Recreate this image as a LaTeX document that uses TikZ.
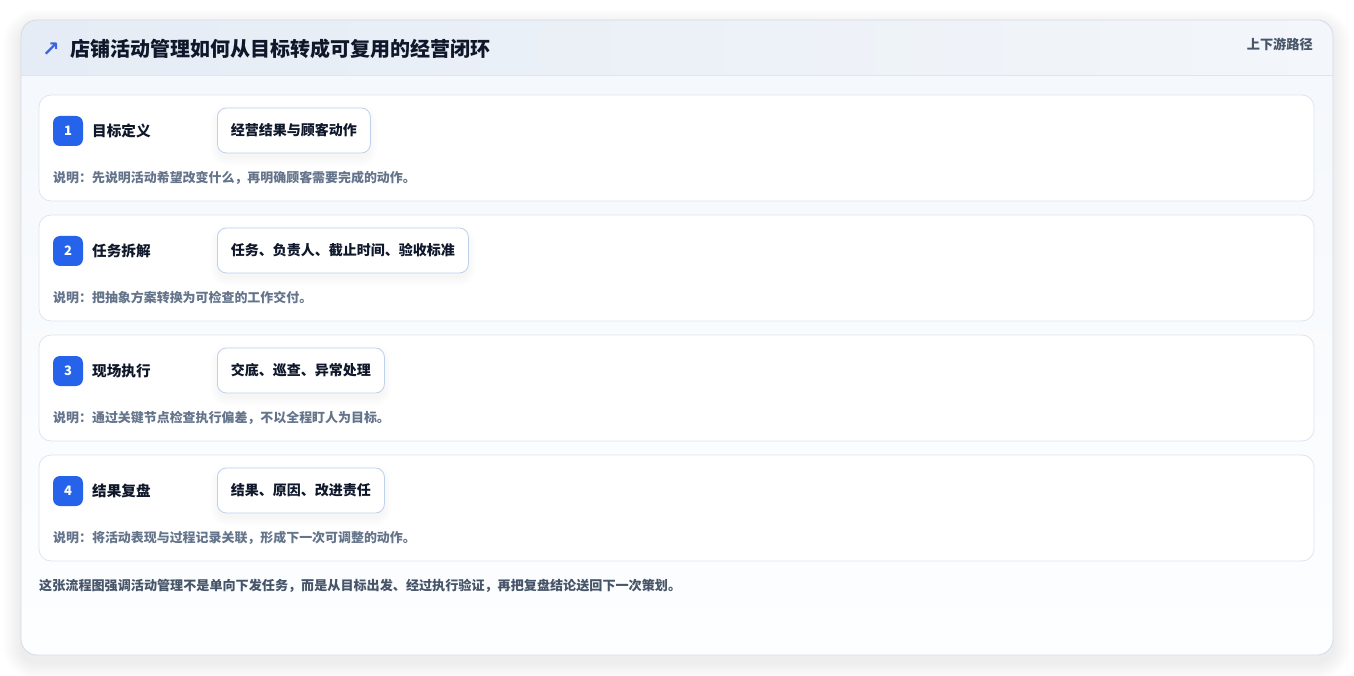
\documentclass[tikz,border=0pt]{standalone}
\usepackage{fontspec}
\setmainfont{Noto Sans CJK SC}
\newfontfamily\symfont{DejaVu Sans}
\usetikzlibrary{calc}
\pgfdeclarelayer{bgl}
\pgfdeclarelayer{rowl}
\pgfdeclarelayer{shadl}
\pgfsetlayers{bgl,rowl,shadl,main}
\definecolor{ink}{HTML}{0F172A}
\definecolor{muted}{HTML}{64748B}
\definecolor{subtle}{HTML}{475569}
\definecolor{badgeblue}{HTML}{2563EB}
\definecolor{arrowblue}{HTML}{3B63E0}
\definecolor{rowline}{HTML}{DCE5F1}
\definecolor{pillline}{HTML}{BDD0EC}
\definecolor{cardline}{HTML}{D3DBE6}
\definecolor{headA}{HTML}{E5ECF5}
\definecolor{headB}{HTML}{F3F6FA}
\definecolor{bodyA}{HTML}{F5F8FC}
\definecolor{bodyB}{HTML}{FDFEFF}
\definecolor{pillshadow}{HTML}{1E3A8A}
\tikzset{
  rowbox/.style={draw=rowline, line width=0.8pt, fill=white, rounded corners=12pt},
  badge/.style={fill=badgeblue, rounded corners=7pt, minimum width=30pt, minimum height=30pt, inner sep=0pt, text=white, font=\fontsize{13}{15}\selectfont\bfseries},
  steplabel/.style={anchor=west, inner sep=0pt, text=ink, font=\fontsize{14.6}{17}\selectfont\bfseries},
  pill/.style={anchor=west, draw=pillline, line width=0.8pt, fill=white, rounded corners=9pt, minimum height=45pt, inner xsep=13.5pt, text=ink, font=\fontsize{14}{16}\selectfont\bfseries},
  notetext/.style={anchor=west, inner sep=0pt, text=muted, font=\fontsize{12.95}{15}\selectfont\bfseries},
  softshade/.style={fill=black, fill opacity=#1},
  pillshade/.style={fill=pillshadow, fill opacity=#1},
}
\begin{document}
\begin{tikzpicture}[x=1pt,y=-1pt]
\useasboundingbox (0,0) rectangle (1354,676);
\begin{pgfonlayer}{bgl}
\fill[white] (0,0) rectangle (1354,676);
% soft card shadow
\foreach \k in {1,...,18}{
  \fill[softshade=0.004] (21-\k,20-\k+7) [rounded corners=16pt+\k pt] rectangle (1333+\k,655+\k+7);
}
\fill[white] (21,20) [rounded corners=16pt] rectangle (1333,655);
\begin{scope}
  \clip (21,20) [rounded corners=16pt] rectangle (1333,655);
  \shade[top color=bodyA, bottom color=bodyB] (21,76) rectangle (1333,655);
  \shade[left color=headA, right color=headB] (21,20) rectangle (1333,76);
  \draw[rowline, line width=0.8pt] (21,75.5) -- (1333,75.5);
\end{scope}
\draw[cardline, line width=0.8pt] (21,20) [rounded corners=16pt] rectangle (1333,655);
\end{pgfonlayer}
% header
\node[anchor=center, inner sep=0pt, text=arrowblue, font=\symfont\bfseries\fontsize{21}{21}\selectfont] (icon) at (51,49.5) {↗};
\node[anchor=west, inner sep=0pt, text=ink, font=\fontsize{20}{23}\selectfont\bfseries] (title) at (70,48.5) {店铺活动管理如何从目标转成可复用的经营闭环};
\node[anchor=east, inner sep=0pt, text=subtle, font=\fontsize{13.2}{15}\selectfont\bfseries] (path) at (1313,44) {上下游路径};
% rows
\foreach \t/\n/\lab/\pil/\note [count=\i] in {
  95/1/目标定义/经营结果与顾客动作/说明：先说明活动希望改变什么，再明确顾客需要完成的动作。,
  215/2/任务拆解/任务、负责人、截止时间、验收标准/说明：把抽象方案转换为可检查的工作交付。,
  335/3/现场执行/交底、巡查、异常处理/说明：通过关键节点检查执行偏差，不以全程盯人为目标。,
  455/4/结果复盘/结果、原因、改进责任/说明：将活动表现与过程记录关联，形成下一次可调整的动作。}{
  \begin{pgfonlayer}{rowl}
  \draw[rowbox] (39,\t) rectangle (1314,\t+106);
  \end{pgfonlayer}
  \node[badge] (b\i) at (68,\t+36) {\n};
  \node[steplabel] (l\i) at (92,\t+36) {\lab};
  \node[pill] (p\i) at (217,\t+35.5) {\pil};
  \begin{pgfonlayer}{shadl}
  \foreach \k in {1,...,9}{
    \fill[pillshade=0.005] ($(p\i.north west)+(-\k+2,-\k+6)$) [rounded corners=9pt+\k pt] rectangle ($(p\i.south east)+(\k-2,\k+4)$);
  }
  \end{pgfonlayer}
  \node[notetext] (n\i) at (53,\t+83) {\note};
}
% footer
\node[anchor=west, inner sep=0pt, text=subtle, font=\fontsize{13.1}{15}\selectfont\bfseries] (foot) at (39,586) {这张流程图强调活动管理不是单向下发任务，而是从目标出发、经过执行验证，再把复盘结论送回下一次策划。};
\end{tikzpicture}
\end{document}
